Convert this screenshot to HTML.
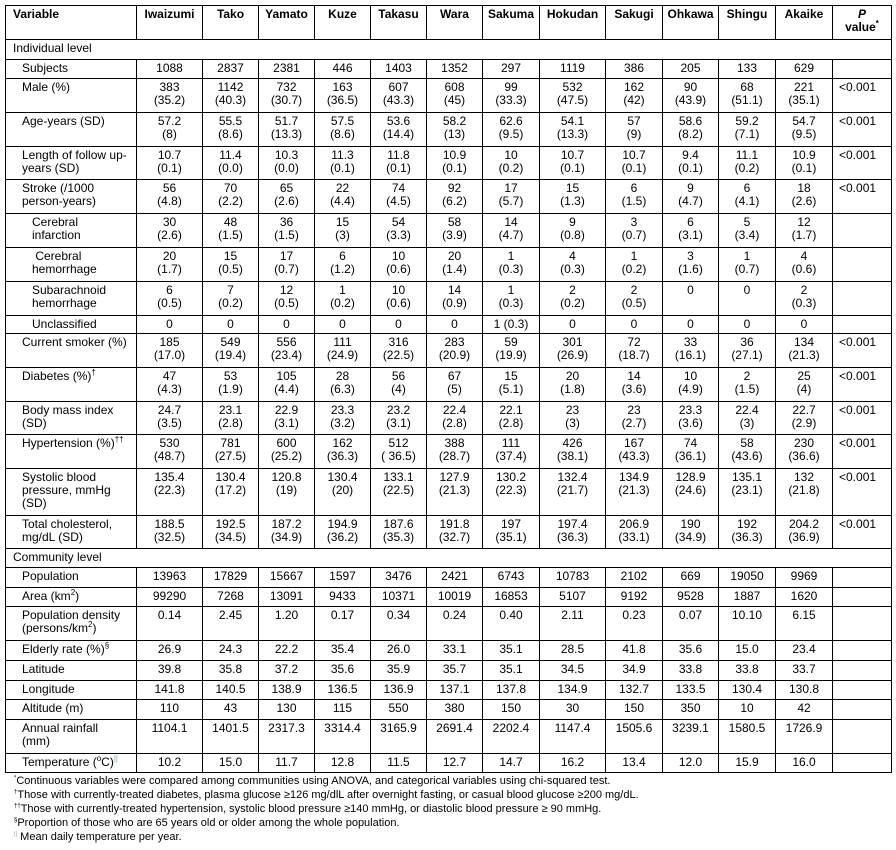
<!DOCTYPE html>
<html><head><meta charset="utf-8"><style>
body{margin:0;background:#fff;width:896px;height:850px;overflow:hidden;font-family:"Liberation Sans",Arial,sans-serif;color:#000}
table{position:absolute;left:5px;top:5px;border-collapse:collapse;table-layout:fixed;width:886px;font-size:12px;line-height:13px}
td{border:1px solid #000;padding:2px 2px 0 2px;vertical-align:top;text-align:center;white-space:nowrap;overflow:hidden}
td.l{text-align:left;padding-left:16px}
td.s{text-align:left;padding-left:26px}
td.g{text-align:left;padding-left:7px}
td.p{text-align:left;padding-left:6px}
tr.h td{font-weight:bold}
tr.r1{height:19.5px}tr.r2{height:33.8px}tr.r3{height:47px}
sup{font-size:8px;line-height:0}
.fn{position:absolute;left:14px;top:774px;font-size:11px;line-height:14px}
.fn sup{font-size:6px}
</style></head><body>
<table>
<colgroup><col style="width:131px"><col style="width:66px"><col style="width:56px"><col style="width:56px"><col style="width:56px"><col style="width:56px"><col style="width:56px"><col style="width:57px"><col style="width:66px"><col style="width:57px"><col style="width:56px"><col style="width:57px"><col style="width:57px"><col style="width:59px"></colgroup>
<tr class="h r2" style="height:34px"><td class="g">Variable</td><td>Iwaizumi</td><td>Tako</td><td>Yamato</td><td>Kuze</td><td>Takasu</td><td>Wara</td><td>Sakuma</td><td>Hokudan</td><td>Sakugi</td><td>Ohkawa</td><td>Shingu</td><td>Akaike</td><td><i>P</i><br>value<sup>*</sup></td></tr>
<tr class="r1"><td class="g" colspan="14">Individual level</td></tr>
<tr class="r1"><td class="l">Subjects</td><td>1088</td><td>2837</td><td>2381</td><td>446</td><td>1403</td><td>1352</td><td>297</td><td>1119</td><td>386</td><td>205</td><td>133</td><td>629</td><td></td></tr>
<tr class="r2"><td class="l">Male (%)</td><td>383<br>(35.2)</td><td>1142<br>(40.3)</td><td>732<br>(30.7)</td><td>163<br>(36.5)</td><td>607<br>(43.3)</td><td>608<br>(45)</td><td>99<br>(33.3)</td><td>532<br>(47.5)</td><td>162<br>(42)</td><td>90<br>(43.9)</td><td>68<br>(51.1)</td><td>221<br>(35.1)</td><td class="p">&lt;0.001</td></tr>
<tr class="r2"><td class="l">Age-years (SD)</td><td>57.2<br>(8)</td><td>55.5<br>(8.6)</td><td>51.7<br>(13.3)</td><td>57.5<br>(8.6)</td><td>53.6<br>(14.4)</td><td>58.2<br>(13)</td><td>62.6<br>(9.5)</td><td>54.1<br>(13.3)</td><td>57<br>(9)</td><td>58.6<br>(8.2)</td><td>59.2<br>(7.1)</td><td>54.7<br>(9.5)</td><td class="p">&lt;0.001</td></tr>
<tr class="r2"><td class="l">Length of follow up-<br>years (SD)</td><td>10.7<br>(0.1)</td><td>11.4<br>(0.0)</td><td>10.3<br>(0.0)</td><td>11.3<br>(0.1)</td><td>11.8<br>(0.1)</td><td>10.9<br>(0.1)</td><td>10<br>(0.2)</td><td>10.7<br>(0.1)</td><td>10.7<br>(0.1)</td><td>9.4<br>(0.1)</td><td>11.1<br>(0.2)</td><td>10.9<br>(0.1)</td><td class="p">&lt;0.001</td></tr>
<tr class="r2"><td class="l">Stroke (/1000<br>person-years)</td><td>56<br>(4.8)</td><td>70<br>(2.2)</td><td>65<br>(2.6)</td><td>22<br>(4.4)</td><td>74<br>(4.5)</td><td>92<br>(6.2)</td><td>17<br>(5.7)</td><td>15<br>(1.3)</td><td>6<br>(1.5)</td><td>9<br>(4.7)</td><td>6<br>(4.1)</td><td>18<br>(2.6)</td><td class="p">&lt;0.001</td></tr>
<tr class="r2"><td class="s">Cerebral<br>infarction</td><td>30<br>(2.6)</td><td>48<br>(1.5)</td><td>36<br>(1.5)</td><td>15<br>(3)</td><td>54<br>(3.3)</td><td>58<br>(3.9)</td><td>14<br>(4.7)</td><td>9<br>(0.8)</td><td>3<br>(0.7)</td><td>6<br>(3.1)</td><td>5<br>(3.4)</td><td>12<br>(1.7)</td><td></td></tr>
<tr class="r2"><td class="s">&nbsp;Cerebral<br>hemorrhage</td><td>20<br>(1.7)</td><td>15<br>(0.5)</td><td>17<br>(0.7)</td><td>6<br>(1.2)</td><td>10<br>(0.6)</td><td>20<br>(1.4)</td><td>1<br>(0.3)</td><td>4<br>(0.3)</td><td>1<br>(0.2)</td><td>3<br>(1.6)</td><td>1<br>(0.7)</td><td>4<br>(0.6)</td><td></td></tr>
<tr class="r2"><td class="s">Subarachnoid<br>hemorrhage</td><td>6<br>(0.5)</td><td>7<br>(0.2)</td><td>12<br>(0.5)</td><td>1<br>(0.2)</td><td>10<br>(0.6)</td><td>14<br>(0.9)</td><td>1<br>(0.3)</td><td>2<br>(0.2)</td><td>2<br>(0.5)</td><td>0</td><td>0</td><td>2<br>(0.3)</td><td></td></tr>
<tr class="r1" style="height:18.5px"><td class="s">Unclassified</td><td>0</td><td>0</td><td>0</td><td>0</td><td>0</td><td>0</td><td>1 (0.3)</td><td>0</td><td>0</td><td>0</td><td>0</td><td>0</td><td></td></tr>
<tr class="r2"><td class="l">Current smoker (%)</td><td>185<br>(17.0)</td><td>549<br>(19.4)</td><td>556<br>(23.4)</td><td>111<br>(24.9)</td><td>316<br>(22.5)</td><td>283<br>(20.9)</td><td>59<br>(19.9)</td><td>301<br>(26.9)</td><td>72<br>(18.7)</td><td>33<br>(16.1)</td><td>36<br>(27.1)</td><td>134<br>(21.3)</td><td class="p">&lt;0.001</td></tr>
<tr class="r2"><td class="l">Diabetes (%)<sup>†</sup></td><td>47<br>(4.3)</td><td>53<br>(1.9)</td><td>105<br>(4.4)</td><td>28<br>(6.3)</td><td>56<br>(4)</td><td>67<br>(5)</td><td>15<br>(5.1)</td><td>20<br>(1.8)</td><td>14<br>(3.6)</td><td>10<br>(4.9)</td><td>2<br>(1.5)</td><td>25<br>(4)</td><td class="p">&lt;0.001</td></tr>
<tr class="r2"><td class="l">Body mass index<br>(SD)</td><td>24.7<br>(3.5)</td><td>23.1<br>(2.8)</td><td>22.9<br>(3.1)</td><td>23.3<br>(3.2)</td><td>23.2<br>(3.1)</td><td>22.4<br>(2.8)</td><td>22.1<br>(2.8)</td><td>23<br>(3)</td><td>23<br>(2.7)</td><td>23.3<br>(3.6)</td><td>22.4<br>(3)</td><td>22.7<br>(2.9)</td><td class="p">&lt;0.001</td></tr>
<tr class="r2"><td class="l">Hypertension (%)<sup>††</sup></td><td>530<br>(48.7)</td><td>781<br>(27.5)</td><td>600<br>(25.2)</td><td>162<br>(36.3)</td><td>512<br>( 36.5)</td><td>388<br>(28.7)</td><td>111<br>(37.4)</td><td>426<br>(38.1)</td><td>167<br>(43.3)</td><td>74<br>(36.1)</td><td>58<br>(43.6)</td><td>230<br>(36.6)</td><td class="p">&lt;0.001</td></tr>
<tr class="r3"><td class="l">Systolic blood<br>pressure, mmHg<br>(SD)</td><td>135.4<br>(22.3)</td><td>130.4<br>(17.2)</td><td>120.8<br>(19)</td><td>130.4<br>(20)</td><td>133.1<br>(22.5)</td><td>127.9<br>(21.3)</td><td>130.2<br>(22.3)</td><td>132.4<br>(21.7)</td><td>134.9<br>(21.3)</td><td>128.9<br>(24.6)</td><td>135.1<br>(23.1)</td><td>132<br>(21.8)</td><td class="p">&lt;0.001</td></tr>
<tr class="r2" style="height:33px"><td class="l">Total cholesterol,<br>mg/dL (SD)</td><td>188.5<br>(32.5)</td><td>192.5<br>(34.5)</td><td>187.2<br>(34.9)</td><td>194.9<br>(36.2)</td><td>187.6<br>(35.3)</td><td>191.8<br>(32.7)</td><td>197<br>(35.1)</td><td>197.4<br>(36.3)</td><td>206.9<br>(33.1)</td><td>190<br>(34.9)</td><td>192<br>(36.3)</td><td>204.2<br>(36.9)</td><td class="p">&lt;0.001</td></tr>
<tr class="r1" style="height:19px"><td class="g" colspan="14">Community level</td></tr>
<tr class="r1"><td class="l">Population</td><td>13963</td><td>17829</td><td>15667</td><td>1597</td><td>3476</td><td>2421</td><td>6743</td><td>10783</td><td>2102</td><td>669</td><td>19050</td><td>9969</td><td></td></tr>
<tr class="r1"><td class="l">Area (km<sup>2</sup>)</td><td>99290</td><td>7268</td><td>13091</td><td>9433</td><td>10371</td><td>10019</td><td>16853</td><td>5107</td><td>9192</td><td>9528</td><td>1887</td><td>1620</td><td></td></tr>
<tr class="r2"><td class="l">Population density<br>(persons/km<sup>2</sup>)</td><td>0.14</td><td>2.45</td><td>1.20</td><td>0.17</td><td>0.34</td><td>0.24</td><td>0.40</td><td>2.11</td><td>0.23</td><td>0.07</td><td>10.10</td><td>6.15</td><td></td></tr>
<tr class="r1" style="height:20px"><td class="l">Elderly rate (%)<sup>§</sup></td><td>26.9</td><td>24.3</td><td>22.2</td><td>35.4</td><td>26.0</td><td>33.1</td><td>35.1</td><td>28.5</td><td>41.8</td><td>35.6</td><td>15.0</td><td>23.4</td><td></td></tr>
<tr class="r1"><td class="l">Latitude</td><td>39.8</td><td>35.8</td><td>37.2</td><td>35.6</td><td>35.9</td><td>35.7</td><td>35.1</td><td>34.5</td><td>34.9</td><td>33.8</td><td>33.8</td><td>33.7</td><td></td></tr>
<tr class="r1"><td class="l">Longitude</td><td>141.8</td><td>140.5</td><td>138.9</td><td>136.5</td><td>136.9</td><td>137.1</td><td>137.8</td><td>134.9</td><td>132.7</td><td>133.5</td><td>130.4</td><td>130.8</td><td></td></tr>
<tr class="r1" style="height:20px"><td class="l">Altitude (m)</td><td>110</td><td>43</td><td>130</td><td>115</td><td>550</td><td>380</td><td>150</td><td>30</td><td>150</td><td>350</td><td>10</td><td>42</td><td></td></tr>
<tr class="r2"><td class="l">Annual rainfall<br>(mm)</td><td>1104.1</td><td>1401.5</td><td>2317.3</td><td>3314.4</td><td>3165.9</td><td>2691.4</td><td>2202.4</td><td>1147.4</td><td>1505.6</td><td>3239.1</td><td>1580.5</td><td>1726.9</td><td></td></tr>
<tr class="r1"><td class="l">Temperature (<sup>o</sup>C)<sup style="color:#8ab">||</sup></td><td>10.2</td><td>15.0</td><td>11.7</td><td>12.8</td><td>11.5</td><td>12.7</td><td>14.7</td><td>16.2</td><td>13.4</td><td>12.0</td><td>15.9</td><td>16.0</td><td></td></tr>
</table>
<div class="fn">
<div><sup>*</sup>Continuous variables were compared among communities using ANOVA, and categorical variables using chi-squared test.</div>
<div><sup>†</sup>Those with currently-treated diabetes, plasma glucose ≥126 mg/dlL after overnight fasting, or casual blood glucose ≥200 mg/dL.</div>
<div><sup>††</sup>Those with currently-treated hypertension, systolic blood pressure ≥140 mmHg, or diastolic blood pressure ≥ 90 mmHg.</div>
<div><sup>§</sup>Proportion of those who are 65 years old or older among the whole population.</div>
<div><sup style="color:#8ab">||</sup> Mean daily temperature per year.</div>
</div>
</body></html>
